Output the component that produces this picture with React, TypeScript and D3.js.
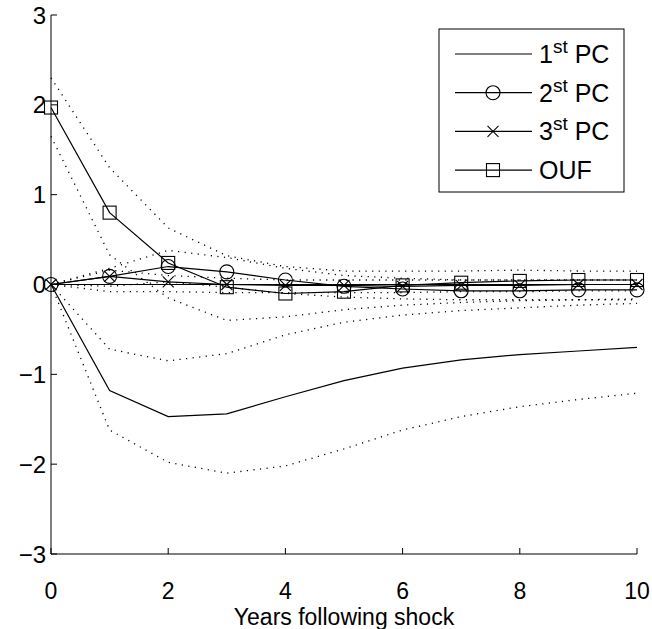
import React from 'react';
import * as d3 from 'd3';

const years = [0, 1, 2, 3, 4, 5, 6, 7, 8, 9, 10];
const pc1 = [0, -1.18, -1.47, -1.44, -1.25, -1.07, -0.93, -0.84, -0.78, -0.74, -0.70];
const pc1Upper = [0, -0.72, -0.85, -0.77, -0.56, -0.42, -0.34, -0.29, -0.26, -0.23, -0.21];
const pc1Lower = [0, -1.62, -1.98, -2.1, -2.02, -1.83, -1.62, -1.47, -1.36, -1.28, -1.21];
const pc2 = [0, 0.09, 0.2, 0.14, 0.05, -0.02, -0.05, -0.07, -0.07, -0.06, -0.06];
const pc2Upper = [0, 0.18, 0.38, 0.3, 0.18, 0.1, 0.07, 0.05, 0.05, 0.05, 0.05];
const pc2Lower = [0, -0.02, 0.03, -0.03, -0.1, -0.14, -0.16, -0.17, -0.17, -0.17, -0.17];
const pc3 = [0, 0.09, 0.03, 0.0, -0.01, -0.01, -0.02, -0.01, -0.01, 0.0, 0.0];
const pc3Upper = [0, 0.16, 0.1, 0.07, 0.05, 0.05, 0.05, 0.05, 0.05, 0.05, 0.05];
const pc3Lower = [0, -0.08, -0.08, -0.09, -0.09, -0.09, -0.09, -0.08, -0.08, -0.07, -0.07];
const ouf = [1.97, 0.8, 0.24, -0.03, -0.1, -0.08, -0.01, 0.02, 0.04, 0.05, 0.05];
const oufUpper = [2.3, 1.3, 0.63, 0.32, 0.2, 0.15, 0.15, 0.15, 0.16, 0.15, 0.15];
const oufLower = [1.65, 0.33, -0.15, -0.4, -0.36, -0.28, -0.23, -0.2, -0.18, -0.17, -0.16];
const zeroLine = [0, 0, 0, 0, 0, 0, 0, 0, 0, 0, 0];

const xTicks = [0, 2, 4, 6, 8, 10];
const yTicks = [-3, -2, -1, 0, 1, 2, 3];
const xLabel = 'Years following shock';
const legendItems = [
  { main: '1', sup: 'st', rest: ' PC', marker: 'none' },
  { main: '2', sup: 'st', rest: ' PC', marker: 'circle' },
  { main: '3', sup: 'st', rest: ' PC', marker: 'x' },
  { main: 'OUF', sup: '', rest: '', marker: 'square' },
];

const FONT = 'Liberation Sans, Arial, Helvetica, sans-serif';

function Marker({ type, cx, cy }: { type: string; cx: number; cy: number }) {
  if (type === 'circle') return <circle cx={cx} cy={cy} r={7} fill="none" stroke="#000" strokeWidth={1.1} />;
  if (type === 'square') return <rect x={cx - 6.5} y={cy - 6.5} width={13} height={13} fill="none" stroke="#000" strokeWidth={1.1} />;
  if (type === 'x') {
    const s = 5.5;
    return (
      <g stroke="#000" strokeWidth={1.1}>
        <line x1={cx - s} y1={cy - s} x2={cx + s} y2={cy + s} />
        <line x1={cx - s} y1={cy + s} x2={cx + s} y2={cy - s} />
      </g>
    );
  }
  return null;
}

export default function App() {
  const W = 652;
  const H = 629;
  const x = d3.scaleLinear().domain([0, 10]).range([51, 637]);
  const y = d3.scaleLinear().domain([-3, 3]).range([554, 15]);
  const line = d3
    .line<number>()
    .x((_, i) => x(years[i]))
    .y((d) => y(d));

  const bands = [pc1Upper, pc1Lower, pc2Upper, pc2Lower, pc3Upper, pc3Lower, oufUpper, oufLower];
  const series = [
    { data: pc1, marker: 'none' },
    { data: pc2, marker: 'circle' },
    { data: pc3, marker: 'x' },
    { data: ouf, marker: 'square' },
  ];

  const lgX = 439, lgY = 29, lgW = 185, lgH = 163;
  const rowY = (i: number) => 54 + i * 38.7;

  return (
    <svg width={W} height={H} style={{ position: 'absolute', left: 0, top: 0, background: '#fff' }} fontFamily={FONT}>
      <rect x={0} y={0} width={W} height={H} fill="#fff" />
      {bands.map((b, i) => (
        <path key={'b' + i} d={line(b) || ''} fill="none" stroke="#000" strokeWidth={1.3} strokeDasharray="1.2,5.4" />
      ))}
      <path d={line(zeroLine) || ''} fill="none" stroke="#000" strokeWidth={1} />
      {series.map((s, i) => (
        <g key={'s' + i}>
          <path d={line(s.data) || ''} fill="none" stroke="#000" strokeWidth={1.2} />
          {s.data.map((v, j) => (
            <Marker key={j} type={s.marker} cx={x(years[j])} cy={y(v)} />
          ))}
        </g>
      ))}
      {/* axes */}
      <line x1={x(0)} y1={y(-3)} x2={x(0)} y2={y(3)} stroke="#000" strokeWidth={1} />
      <line x1={x(0)} y1={y(-3)} x2={x(10)} y2={y(-3)} stroke="#000" strokeWidth={1} />
      {yTicks.map((t) => (
        <g key={'yt' + t}>
          <line x1={x(0)} y1={y(t)} x2={x(0) + 6} y2={y(t)} stroke="#000" strokeWidth={1} />
          <text x={x(0) - 5} y={y(t) + 8.5} fontSize={24} textAnchor="end" fill="#000">
            {t < 0 ? '\u2212' + Math.abs(t) : String(t)}
          </text>
        </g>
      ))}
      {xTicks.map((t) => (
        <g key={'xt' + t}>
          <line x1={x(t)} y1={y(-3)} x2={x(t)} y2={y(-3) - 6} stroke="#000" strokeWidth={1} />
          <text x={x(t)} y={598.5} fontSize={23} textAnchor="middle" fill="#000">
            {String(t)}
          </text>
        </g>
      ))}
      <text x={(x(0) + x(10)) / 2} y={624.5} fontSize={23} textAnchor="middle" fill="#000">
        {xLabel}
      </text>
      {/* legend */}
      <rect x={lgX} y={lgY} width={lgW} height={lgH} fill="#fff" stroke="#000" strokeWidth={1} />
      {legendItems.map((it, i) => (
        <g key={'lg' + i}>
          <line x1={455} y1={rowY(i)} x2={532} y2={rowY(i)} stroke="#000" strokeWidth={1.2} />
          <Marker type={it.marker} cx={493} cy={rowY(i)} />
          <text x={539} y={rowY(i) + 9} fontSize={25} fill="#000">
            {it.main}
            {it.sup ? (
              <tspan fontSize={19} dy={-10}>
                {it.sup}
              </tspan>
            ) : null}
            {it.rest ? <tspan dy={it.sup ? 10 : 0}>{it.rest}</tspan> : null}
          </text>
        </g>
      ))}
    </svg>
  );
}
